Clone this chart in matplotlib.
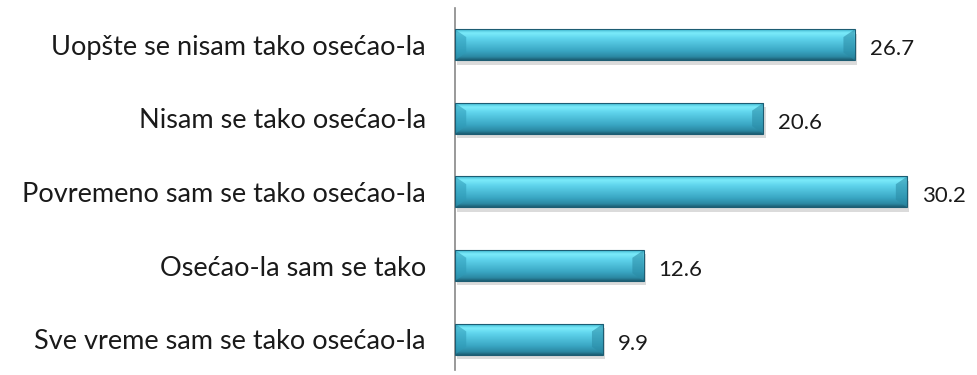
import numpy as np
import matplotlib.pyplot as plt
from matplotlib.colors import LinearSegmentedColormap
from matplotlib.patches import Polygon

# podaci
categories = ['Uopšte se nisam tako osećao-la', 'Nisam se tako osećao-la',
              'Povremeno sam se tako osećao-la', 'Osećao-la sam se tako',
              'Sve vreme sam se tako osećao-la']
values = [26.7, 20.6, 30.2, 12.6, 9.9]

plt.rcParams['font.family'] = ['Lato', 'DejaVu Sans']

fig = plt.figure(figsize=(9.78, 3.75), dpi=100)
ax = fig.add_axes([455 / 978, 5 / 375, (934 - 455) / 978, 362 / 375])
ax.set_xlim(0, 32)
ax.set_ylim(4.42, -0.5)

y = np.arange(len(categories))
h = 0.42

# gradijent odozgo (svetlo) nadole (tamno)
cmap = LinearSegmentedColormap.from_list('cyan', [
    (0.0, '#3fb6d0'), (0.12, '#7cecfb'), (0.3, '#5fd4ec'),
    (0.7, '#3aa7c4'), (0.9, '#2b89a3'), (1.0, '#1d5d73')])
grad = np.linspace(0, 1, 100).reshape(-1, 1)

# senka
ax.barh(y + 0.06, values, height=h, left=0.15, color='#b0b0b0', alpha=0.45,
        edgecolor='none', zorder=1)

bars = ax.barh(y, values, height=h, color='none', edgecolor='#1d5d73',
               linewidth=0.8, zorder=3)
for b, v, yi in zip(bars, values, y):
    im = ax.imshow(grad, cmap=cmap, aspect='auto', zorder=2,
                   extent=[0, v, yi + h / 2, yi - h / 2], interpolation='bicubic')
    im.set_clip_path(b)
    # kosi krajevi (bevel)
    d = 0.75
    ax.add_patch(Polygon([[0, yi - h / 2], [d, yi - h / 4], [d, yi + h / 4], [0, yi + h / 2]],
                         closed=True, color='#2e9ab6', alpha=0.55, lw=0, zorder=2.5))
    ax.add_patch(Polygon([[v, yi - h / 2], [v - d, yi - h / 4], [v - d, yi + h / 4], [v, yi + h / 2]],
                         closed=True, color='#2a8aa4', alpha=0.55, lw=0, zorder=2.5))
    ax.text(v + 1.0, yi + 0.06, f'{v:.1f}', va='center', ha='left', fontsize=16,
            color='#1a1a1a', clip_on=False)

ax.set_yticks(y)
ax.set_yticklabels(categories, fontsize=19.5, color='#1a1a1a')
ax.tick_params(axis='y', length=0, pad=21)
ax.set_xticks([])
for s in ['top', 'right', 'bottom']:
    ax.spines[s].set_visible(False)
ax.spines['left'].set_color('#888888')
ax.spines['left'].set_linewidth(1.2)
ax.set_zorder(1)

fig.savefig('out.png', dpi=100)
